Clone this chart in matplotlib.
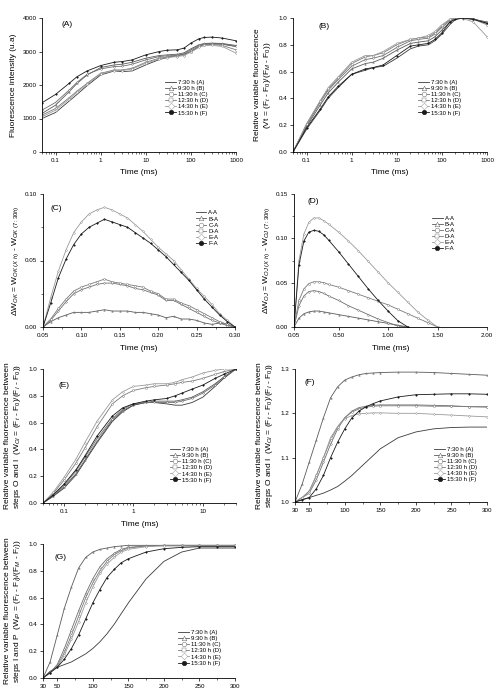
import numpy as np
import matplotlib
matplotlib.use("Agg")
import matplotlib.pyplot as plt
from matplotlib.ticker import AutoMinorLocator, FixedLocator

plt.rcParams['font.family'] = ['Liberation Sans', 'DejaVu Sans']
plt.rcParams['mathtext.fontset'] = 'custom'
plt.rcParams['mathtext.rm'] = 'Liberation Sans'
plt.rcParams['mathtext.it'] = 'Liberation Sans:italic'
plt.rcParams['font.size'] = 5

# ---- data ----
hours = ['7:30 h (A)', '9:30 h (B)', '11:30 h (C)', '12:30 h (D)', '14:30 h (E)', '15:30 h (F)']
diffs = ['A-A', 'B-A', 'C-A', 'D-A', 'E-A', 'F-A']

# (A) raw fluorescence, log time
t_ab = [0.05, 0.1, 0.2, 0.3, 0.5, 1, 2, 3, 5, 10, 20, 30, 50, 70, 100, 150, 200, 300, 500, 1000]
fluo_A = [1000, 1180, 1520, 1720, 1980, 2300, 2420, 2400, 2420, 2600, 2760, 2820, 2880, 2920, 3000, 3150, 3220, 3230, 3220, 3150]
fluo_B = [1150, 1400, 1800, 2050, 2300, 2520, 2600, 2620, 2680, 2800, 2880, 2900, 2920, 2960, 3080, 3200, 3240, 3250, 3240, 3180]
fluo_C = [1250, 1480, 1850, 2080, 2320, 2480, 2550, 2560, 2620, 2750, 2850, 2870, 2890, 2930, 3050, 3180, 3220, 3230, 3220, 3150]
fluo_D = [1100, 1300, 1620, 1820, 2050, 2350, 2450, 2450, 2500, 2680, 2800, 2840, 2870, 2900, 3000, 3150, 3200, 3210, 3180, 3050]
fluo_E = [1050, 1250, 1580, 1780, 2020, 2330, 2430, 2430, 2480, 2650, 2780, 2820, 2850, 2880, 2980, 3120, 3180, 3180, 3150, 2950]
fluo_F = [1470, 1720, 2050, 2250, 2420, 2580, 2680, 2700, 2750, 2900, 3000, 3040, 3050, 3100, 3250, 3380, 3420, 3430, 3400, 3320]

# (B) Vt
vt_A = [0, 0.17, 0.31, 0.40, 0.48, 0.58, 0.61, 0.63, 0.64, 0.70, 0.77, 0.79, 0.80, 0.83, 0.88, 0.95, 0.99, 1.0, 0.995, 0.96]
vt_B = [0, 0.19, 0.35, 0.44, 0.52, 0.62, 0.66, 0.67, 0.70, 0.76, 0.81, 0.82, 0.83, 0.86, 0.91, 0.97, 1.0, 1.0, 0.99, 0.97]
vt_C = [0, 0.20, 0.37, 0.46, 0.54, 0.64, 0.69, 0.70, 0.72, 0.78, 0.83, 0.84, 0.85, 0.88, 0.93, 0.98, 1.0, 1.0, 0.99, 0.97]
vt_D = [0, 0.21, 0.38, 0.47, 0.55, 0.66, 0.71, 0.72, 0.74, 0.80, 0.84, 0.85, 0.86, 0.89, 0.94, 0.99, 1.0, 1.0, 0.99, 0.95]
vt_E = [0, 0.21, 0.38, 0.48, 0.56, 0.67, 0.72, 0.72, 0.75, 0.81, 0.84, 0.85, 0.87, 0.90, 0.95, 0.99, 1.0, 0.995, 0.97, 0.86]
vt_F = [0, 0.18, 0.32, 0.41, 0.49, 0.58, 0.62, 0.63, 0.65, 0.72, 0.79, 0.80, 0.81, 0.84, 0.89, 0.97, 0.99, 1.0, 0.99, 0.96]

# (C) delta W_OK
t_c = [0.05, 0.06, 0.07, 0.08, 0.09, 0.10, 0.11, 0.12, 0.13, 0.14, 0.15, 0.16, 0.17,
       0.18, 0.19, 0.20, 0.21, 0.22, 0.23, 0.24, 0.25, 0.26, 0.27, 0.28, 0.29, 0.30]
dwok_A = [0] * 26
dwok_B = [0, 0.004, 0.007, 0.009, 0.011, 0.011, 0.011, 0.012, 0.013, 0.012, 0.012, 0.012, 0.011,
          0.011, 0.010, 0.009, 0.007, 0.008, 0.006, 0.006, 0.005, 0.003, 0.002, 0.003, 0.002, 0]
dwok_C = [0, 0.005, 0.012, 0.019, 0.025, 0.028, 0.030, 0.032, 0.033, 0.033, 0.032, 0.031, 0.029,
          0.028, 0.026, 0.024, 0.020, 0.020, 0.017, 0.014, 0.011, 0.008, 0.005, 0.003, 0.001, 0]
dwok_D = [0, 0.006, 0.014, 0.021, 0.027, 0.030, 0.032, 0.034, 0.036, 0.034, 0.033, 0.032, 0.031,
          0.030, 0.027, 0.025, 0.021, 0.021, 0.018, 0.016, 0.013, 0.010, 0.007, 0.004, 0.002, 0]
dwok_E = [0, 0.022, 0.042, 0.058, 0.071, 0.079, 0.085, 0.088, 0.090, 0.088, 0.085, 0.082, 0.077,
          0.072, 0.066, 0.060, 0.055, 0.050, 0.043, 0.036, 0.029, 0.023, 0.017, 0.010, 0.005, 0]
dwok_F = [0, 0.018, 0.037, 0.051, 0.062, 0.070, 0.075, 0.078, 0.081, 0.079, 0.077, 0.075, 0.071,
          0.067, 0.063, 0.058, 0.053, 0.047, 0.041, 0.035, 0.028, 0.021, 0.015, 0.009, 0.004, 0]

# (D) delta W_OJ
t_d = [0.05, 0.1, 0.15, 0.2, 0.25, 0.3, 0.35, 0.4, 0.5, 0.6, 0.7, 0.8, 0.9, 1.0, 1.1, 1.2, 1.3, 1.4, 1.5]
nan = np.nan
dwoj_A = [0] * 19
dwoj_B = [0, 0.010, 0.015, 0.017, 0.018, 0.018, 0.017, 0.016, 0.014, 0.012, 0.010, 0.008, 0.006, 0.004, 0.002, 0, nan, nan, nan]
dwoj_C = [0, 0.024, 0.035, 0.040, 0.041, 0.040, 0.038, 0.035, 0.030, 0.024, 0.019, 0.014, 0.009, 0.005, 0.001, 0, nan, nan, nan]
dwoj_D = [0, 0.030, 0.043, 0.049, 0.051, 0.051, 0.050, 0.048, 0.045, 0.041, 0.037, 0.033, 0.029, 0.025, 0.020, 0.015, 0.010, 0.005, 0]
dwoj_E = [0, 0.075, 0.105, 0.118, 0.123, 0.123, 0.120, 0.116, 0.107, 0.097, 0.086, 0.074, 0.062, 0.050, 0.039, 0.028, 0.017, 0.008, 0]
dwoj_F = [0, 0.070, 0.097, 0.107, 0.109, 0.108, 0.104, 0.098, 0.085, 0.071, 0.057, 0.043, 0.030, 0.018, 0.007, 0, nan, nan, nan]

# (E) W_OI, log time
t_e = [0.05, 0.07, 0.1, 0.15, 0.2, 0.3, 0.5, 0.7, 1, 1.5, 2, 3, 4, 5, 7, 10, 15, 20, 30]
woi_A = [0, 0.05, 0.11, 0.21, 0.31, 0.45, 0.61, 0.68, 0.73, 0.75, 0.75, 0.74, 0.73, 0.73, 0.75, 0.79, 0.87, 0.93, 1.0]
woi_B = [0, 0.05, 0.12, 0.22, 0.32, 0.46, 0.62, 0.69, 0.73, 0.75, 0.76, 0.76, 0.76, 0.77, 0.79, 0.83, 0.89, 0.94, 1.0]
woi_C = [0, 0.06, 0.13, 0.24, 0.34, 0.48, 0.63, 0.70, 0.74, 0.75, 0.75, 0.75, 0.75, 0.76, 0.78, 0.82, 0.88, 0.94, 1.0]
woi_D = [0, 0.07, 0.17, 0.30, 0.41, 0.57, 0.74, 0.80, 0.84, 0.86, 0.87, 0.88, 0.89, 0.90, 0.91, 0.93, 0.96, 0.98, 1.0]
woi_E = [0, 0.08, 0.19, 0.33, 0.45, 0.61, 0.77, 0.83, 0.87, 0.88, 0.89, 0.89, 0.90, 0.92, 0.94, 0.97, 0.99, 1.0, 1.0]
woi_F = [0, 0.06, 0.14, 0.25, 0.35, 0.50, 0.65, 0.71, 0.74, 0.76, 0.77, 0.78, 0.80, 0.82, 0.85, 0.88, 0.93, 0.96, 1.0]

# (F) W_OI over 30-300 ms
t_fg = [30, 40, 50, 60, 70, 80, 90, 100, 110, 120, 130, 140, 150, 175, 200, 225, 250, 275, 300]
wf_A = [1.0, 1.005, 1.01, 1.015, 1.02, 1.027, 1.035, 1.047, 1.06, 1.075, 1.09, 1.105, 1.12, 1.145, 1.158, 1.165, 1.168, 1.169, 1.169]
wf_B = [1.0, 1.04, 1.09, 1.14, 1.19, 1.235, 1.26, 1.275, 1.282, 1.287, 1.29, 1.291, 1.292, 1.293, 1.293, 1.292, 1.29, 1.288, 1.286]
wf_C = [1.0, 1.01, 1.02, 1.05, 1.09, 1.13, 1.165, 1.19, 1.205, 1.213, 1.216, 1.218, 1.219, 1.219, 1.219, 1.218, 1.217, 1.215, 1.214]
wf_D = [1.0, 1.01, 1.025, 1.06, 1.10, 1.14, 1.17, 1.19, 1.203, 1.21, 1.214, 1.216, 1.217, 1.217, 1.217, 1.216, 1.216, 1.215, 1.215]
wf_E = [1.0, 1.01, 1.02, 1.06, 1.10, 1.145, 1.17, 1.188, 1.195, 1.199, 1.2, 1.201, 1.201, 1.2, 1.2, 1.198, 1.196, 1.194, 1.192]
wf_F = [1.0, 1.005, 1.01, 1.03, 1.06, 1.10, 1.135, 1.165, 1.19, 1.205, 1.215, 1.222, 1.228, 1.237, 1.242, 1.243, 1.244, 1.244, 1.243]

# (G) W_IP
wip_A = [0, 0.05, 0.08, 0.10, 0.12, 0.15, 0.18, 0.22, 0.27, 0.33, 0.40, 0.48, 0.56, 0.74, 0.87, 0.94, 0.97, 0.97, 0.97]
wip_B = [0, 0.12, 0.32, 0.52, 0.68, 0.82, 0.90, 0.94, 0.96, 0.97, 0.98, 0.985, 0.99, 0.99, 0.99, 0.99, 0.99, 0.99, 0.99]
wip_C = [0, 0.04, 0.10, 0.22, 0.36, 0.50, 0.63, 0.74, 0.83, 0.89, 0.93, 0.96, 0.975, 0.985, 0.99, 0.99, 0.99, 0.99, 0.99]
wip_D = [0, 0.04, 0.09, 0.19, 0.32, 0.46, 0.60, 0.71, 0.80, 0.87, 0.92, 0.95, 0.97, 0.985, 0.99, 0.99, 0.99, 0.99, 0.99]
wip_E = [0, 0.04, 0.08, 0.17, 0.29, 0.42, 0.56, 0.68, 0.78, 0.85, 0.90, 0.94, 0.96, 0.98, 0.985, 0.985, 0.985, 0.985, 0.985]
wip_F = [0, 0.04, 0.08, 0.14, 0.22, 0.32, 0.44, 0.56, 0.66, 0.75, 0.81, 0.86, 0.89, 0.94, 0.965, 0.975, 0.98, 0.98, 0.98]

# ---- styling per series (A..F) ----
styles = [
    dict(color='#3a3a3a', marker=None, mfc='none'),
    dict(color='#5a5a5a', marker='^', mfc='white'),
    dict(color='#6e6e6e', marker='o', mfc='white'),
    dict(color='#7a7a7a', marker='s', mfc='white'),
    dict(color='#9a9a9a', marker='D', mfc='white'),
    dict(color='#1a1a1a', marker='o', mfc='#1a1a1a'),
]

W, H = 499, 693
fig = plt.figure(figsize=(W / 100, H / 100), dpi=100)


def make_ax(left, top, right, bottom):
    ax = fig.add_axes([left / W, 1 - bottom / H, (right - left) / W, (bottom - top) / H])
    ax.spines['top'].set_visible(False)
    ax.spines['right'].set_visible(False)
    for s in ('left', 'bottom'):
        ax.spines[s].set_linewidth(0.6)
    ax.tick_params(which='major', direction='out', length=2.5, width=0.5, labelsize=4.5, pad=1.5)
    ax.tick_params(which='minor', direction='out', length=1.3, width=0.4)
    return ax


def draw(ax, x, series, labels, leg_xy, letter, letter_xy):
    for y, st, lab in zip(series, styles, labels):
        ax.plot(x, y, color=st['color'], ls='-', lw=0.6, marker=st['marker'],
                ms=1.1, mfc=st['mfc'], mec=st['color'], mew=0.35, label=lab)
    ax.legend(loc='upper left', bbox_to_anchor=leg_xy, frameon=False, fontsize=4.3,
              handlelength=1.8, labelspacing=0.15, markerscale=3.0, borderpad=0, handletextpad=0.3)
    ax.text(letter_xy[0], letter_xy[1], letter, transform=ax.transAxes, fontsize=6, va='center', ha='left')


# (A)
ax = make_ax(42, 18, 236, 152)
draw(ax, t_ab, [fluo_A, fluo_B, fluo_C, fluo_D, fluo_E, fluo_F], hours, (0.62, 0.56), '(A)', (0.1, 0.95))
ax.set_xscale('log')
ax.set_xlim(0.05, 1000)
ax.set_ylim(0, 4000)
ax.set_yticks([0, 1000, 2000, 3000, 4000])
ax.set_xticks([0.1, 1, 10, 100, 1000])
ax.set_xticklabels(['0.1', '1', '10', '100', '1000'])
ax.set_ylabel('Fluorescence intensity (u.a)', fontsize=6, labelpad=4)
ax.set_xlabel('Time (ms)', fontsize=6, labelpad=5)

# (B)
ax = make_ax(293, 18, 487, 152)
draw(ax, t_ab, [vt_A, vt_B, vt_C, vt_D, vt_E, vt_F], hours, (0.63, 0.56), '(B)', (0.13, 0.94))
ax.set_xscale('log')
ax.set_xlim(0.05, 1000)
ax.set_ylim(0, 1.0)
ax.set_yticks([0, 0.2, 0.4, 0.6, 0.8, 1.0])
ax.set_yticklabels(['0.0', '0.2', '0.4', '0.6', '0.8', '1.0'])
ax.set_xticks([0.1, 1, 10, 100, 1000])
ax.set_xticklabels(['0.1', '1', '10', '100', '1000'])
ax.set_ylabel('Relative variable fluorescence\n(Vt = (F$_t$ - F$_0$)/(F$_M$ - F$_0$))', fontsize=6, labelpad=4)
ax.set_xlabel('Time (ms)', fontsize=6, labelpad=5)

# (C)
ax = make_ax(43, 194, 235, 327)
draw(ax, t_c, [dwok_A, dwok_B, dwok_C, dwok_D, dwok_E, dwok_F], diffs, (0.78, 0.9), '(C)', (0.04, 0.89))
ax.set_xlim(0.05, 0.30)
ax.set_ylim(0, 0.10)
ax.set_xticks([0.05, 0.10, 0.15, 0.20, 0.25, 0.30])
ax.set_xticklabels(['0.05', '0.10', '0.15', '0.20', '0.25', '0.30'])
ax.set_yticks([0, 0.05, 0.10])
ax.set_yticklabels(['0.00', '0.05', '0.10'])
ax.xaxis.set_minor_locator(AutoMinorLocator(2))
ax.yaxis.set_minor_locator(AutoMinorLocator(2))
ax.set_ylabel(r'$\Delta$W$_{OK}$ = W$_{OK\ (X\ h)}$ - W$_{OK\ (7:30h)}$', fontsize=6, labelpad=3)
ax.set_xlabel('Time (ms)', fontsize=6, labelpad=5)

# (D)
ax = make_ax(294, 194, 487, 327)
draw(ax, t_d, [dwoj_A, dwoj_B, dwoj_C, dwoj_D, dwoj_E, dwoj_F], diffs, (0.7, 0.86), '(D)', (0.07, 0.94))
ax.set_xlim(0.05, 2.0)
ax.set_ylim(0, 0.15)
ax.set_xticks([0.05, 0.5, 1.0, 1.5, 2.0])
ax.set_xticklabels(['0.05', '0.50', '1.00', '1.50', '2.00'])
ax.set_yticks([0, 0.05, 0.10, 0.15])
ax.set_yticklabels(['0.00', '0.05', '0.10', '0.15'])
ax.yaxis.set_minor_locator(AutoMinorLocator(2))
ax.set_ylabel(r'$\Delta$W$_{OJ}$ = W$_{OJ\ (X\ h)}$ - W$_{OJ\ (7:30h)}$', fontsize=6, labelpad=3)
ax.set_xlabel('Time (ms)', fontsize=6, labelpad=5)

# (E)
ax = make_ax(43, 369, 236, 503)
draw(ax, t_e, [woi_A, woi_B, woi_C, woi_D, woi_E, woi_F], hours, (0.64, 0.44), '(E)', (0.08, 0.88))
ax.set_xscale('log')
ax.set_xlim(0.05, 30)
ax.set_ylim(0, 1.0)
ax.set_yticks([0, 0.2, 0.4, 0.6, 0.8, 1.0])
ax.set_yticklabels(['0.0', '0.2', '0.4', '0.6', '0.8', '1.0'])
ax.set_xticks([0.1, 1, 10])
ax.set_xticklabels(['0.1', '1', '10'])
ax.set_ylabel('Relative variable fluorescence between\nsteps O and I  (W$_{OI}$ = (F$_t$ - F$_0$)/(F$_I$ - F$_0$))',
              fontsize=6, labelpad=4)
ax.set_xlabel('Time (ms)', fontsize=6, labelpad=5)

# (F)
ax = make_ax(295, 369, 487, 502)
draw(ax, t_fg, [wf_A, wf_B, wf_C, wf_D, wf_E, wf_F], hours, (0.71, 0.44), '(F)', (0.05, 0.9))
ax.set_xlim(30, 300)
ax.set_ylim(1.0, 1.3)
ax.set_xticks([30, 50, 100, 150, 200, 250, 300])
ax.set_yticks([1.0, 1.1, 1.2, 1.3])
ax.xaxis.set_minor_locator(FixedLocator([75, 125, 175, 225, 275]))
ax.set_ylabel('Relative variable fluorescence between\nsteps O and I  (W$_{OI}$ = (F$_t$ - F$_0$)/(F$_I$ - F$_0$))',
              fontsize=6, labelpad=4)

# (G)
ax = make_ax(43, 544, 235, 678)
draw(ax, t_fg, [wip_A, wip_B, wip_C, wip_D, wip_E, wip_F], hours, (0.69, 0.38), '(G)', (0.06, 0.9))
ax.set_xlim(30, 300)
ax.set_ylim(0, 1.0)
ax.set_xticks([30, 50, 100, 150, 200, 250, 300])
ax.set_yticks([0, 0.2, 0.4, 0.6, 0.8, 1.0])
ax.set_yticklabels(['0.0', '0.2', '0.4', '0.6', '0.8', '1.0'])
ax.xaxis.set_minor_locator(FixedLocator([75, 125, 175, 225, 275]))
ax.set_ylabel('Relative variable fluorescence between\nsteps I and P  (W$_{IP}$ = (F$_t$ - F$_I$)/(F$_M$ - F$_I$))',
              fontsize=6, labelpad=4)

fig.savefig('out.png', dpi=100)
